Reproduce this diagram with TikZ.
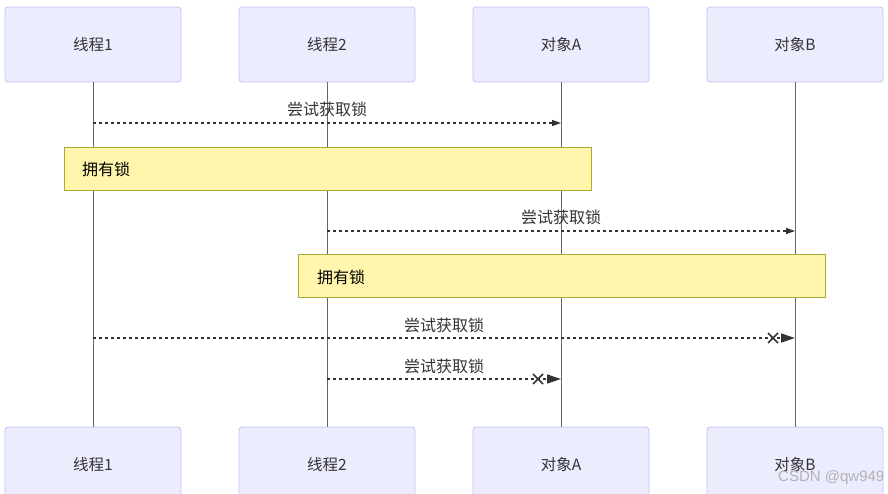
\documentclass[tikz,border=0pt]{standalone}
\usepackage{fontspec}
\setmainfont{Noto Sans CJK SC}
\newfontfamily\wmfont{Liberation Sans}
\usetikzlibrary{arrows.meta}
\definecolor{actfill}{HTML}{ECECFF}
\definecolor{actline}{HTML}{C4C4F5}
\definecolor{notefill}{HTML}{FFF5AD}
\definecolor{noteline}{HTML}{AAAA33}
\definecolor{txt}{HTML}{333333}
\definecolor{lifeline}{HTML}{666666}
\tikzset{
  actor/.style={draw=actline, fill=actfill, line width=0.9pt, rounded corners=3pt,
    minimum width=176pt, minimum height=75pt, inner sep=0pt, text=txt,
    font=\fontsize{15.5}{18}\selectfont},
  notebox/.style={draw=noteline, fill=notefill, line width=0.8pt,
    minimum width=527pt, minimum height=43pt, inner sep=0pt},
  notetext/.style={anchor=west, inner sep=0pt, text=black, font=\fontsize{16}{19}\selectfont},
  life/.style={draw=lifeline, line width=0.9pt},
  msg/.style={draw=txt, line width=1.3pt, dash pattern=on 3pt off 3pt},
  msglabel/.style={text=txt, inner sep=0pt, font=\fontsize{16}{19}\selectfont},
  smalltip/.style={-{Triangle[length=9pt,width=6pt]}},
  bigtip/.style={-{Triangle[length=14pt,width=9pt]}},
  crossmark/.style={draw=txt, line width=1.5pt},
}
\begin{document}
\begin{tikzpicture}[x=1pt,y=-1pt]
\useasboundingbox (0,0) rectangle (888,493);
\clip (0,0) rectangle (888,493);
% actors top
\node[actor] (t1) at (93,44.5) {线程1};
\node[actor] (t2) at (327,44.5) {线程2};
\node[actor] (oA) at (561,44.5) {对象A};
\node[actor] (oB) at (795,44.5) {对象B};
% actors bottom
\node[actor] (t1b) at (93,464.5) {线程1};
\node[actor] (t2b) at (327,464.5) {线程2};
\node[actor] (oAb) at (561,464.5) {对象A};
\node[actor] (oBb) at (795,464.5) {对象B};
% lifelines
\draw[life] (t1.south) -- (t1b.north);
\draw[life] (t2.south) -- (t2b.north);
\draw[life] (oA.south) -- (oAb.north);
\draw[life] (oB.south) -- (oBb.north);
% message 1
\coordinate (m1s) at (t1.south |- 0,123);
\coordinate (m1e) at (oA.south |- 0,123);
\draw[msg, smalltip] (m1s) -- (m1e);
\node[msglabel] (l1) at (327,109) {尝试获取锁};
% note 1
\node[notebox] (n1) at (327.5,168.5) {};
\node[notetext] (n1t) at (82,169) {拥有锁};
% message 2
\coordinate (m2s) at (t2.south |- 0,231);
\coordinate (m2e) at (oB.south |- 0,231);
\draw[msg, smalltip] (m2s) -- (m2e);
\node[msglabel] (l2) at (561,217) {尝试获取锁};
% note 2
\node[notebox] (n2) at (561.5,276) {};
\node[notetext] (n2t) at (317,277) {拥有锁};
% message 3 (lost)
\coordinate (m3s) at (t1.south |- 0,338);
\coordinate (m3e) at (oB.south |- 0,338);
\draw[msg, bigtip] (m3s) -- (m3e);
\coordinate (x3) at (773,338);
\draw[crossmark] ([shift={(-5,-5)}]x3) -- ([shift={(5,5)}]x3);
\draw[crossmark] ([shift={(-5,5)}]x3) -- ([shift={(5,-5)}]x3);
\node[msglabel] (l3) at (444,325) {尝试获取锁};
% message 4 (lost)
\coordinate (m4s) at (t2.south |- 0,379);
\coordinate (m4e) at (oA.south |- 0,379);
\draw[msg, bigtip] (m4s) -- (m4e);
\coordinate (x4) at (538,379);
\draw[crossmark] ([shift={(-5,-5)}]x4) -- ([shift={(5,5)}]x4);
\draw[crossmark] ([shift={(-5,5)}]x4) -- ([shift={(5,-5)}]x4);
\node[msglabel] (l4) at (444,366) {尝试获取锁};
% watermark
\node[anchor=west, inner sep=0pt, text=gray!60, font=\wmfont\fontsize{15}{18}\selectfont] (wm) at (778,478) {CSDN @qw949};
\end{tikzpicture}
\end{document}
